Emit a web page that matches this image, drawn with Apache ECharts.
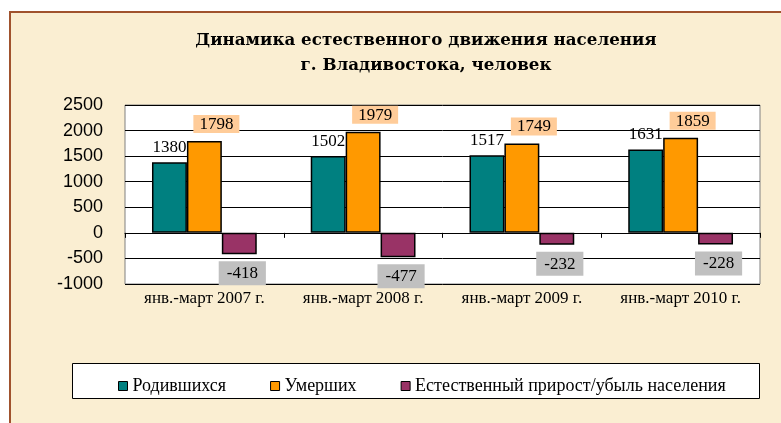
<!DOCTYPE html>
<html>
<head>
<meta charset="utf-8">
<script src="https://cdn.jsdelivr.net/npm/echarts@6/dist/echarts.min.js"></script>
<style>
  html, body { margin: 0; padding: 0; background: #fff; }
  #paper {
    position: absolute; left: 9px; top: 11px; right: 0; bottom: 0;
    background: #faeed2;
    border-left: 2px solid #a0522d;
    border-top: 2px solid #a0522d;
  }
  #chart { position: absolute; left: 0; top: 0; width: 781px; height: 423px; }
</style>
</head>
<body>
<div id="paper"></div>
<div id="chart"></div>
<script>
// периоды и показатели, человек
const periods = ['янв.-март 2007 г.', 'янв.-март 2008 г.', 'янв.-март 2009 г.', 'янв.-март 2010 г.']
const births = [1380, 1502, 1517, 1631]
const deaths = [1798, 1979, 1749, 1859]
const naturalChange = [-418, -477, -232, -228]
const seriesNames = ['Родившихся', 'Умерших', 'Естественный прирост/убыль населения']

const titleFont = '"DejaVu Serif", serif'
const serif = '"Liberation Serif", "Times New Roman", serif'
const sans = '"Liberation Sans", Arial, sans-serif'

const chart = echarts.init(document.getElementById('chart'))

const barBorder = { borderColor: '#000', borderWidth: 1.5 }

chart.setOption({
  backgroundColor: 'transparent',
  animation: false,
  title: {
    text: 'Динамика естественного движения населения\nг. Владивостока, человек',
    left: 426,
    top: 28,
    padding: 0,
    textAlign: 'center',
    textStyle: {
      fontFamily: titleFont, fontWeight: 'bold', fontSize: 16.7, lineHeight: 25, color: '#000',
    },
  },
  graphic: [
    {
      type: 'rect',
      z: 0,
      shape: { x: 72.5, y: 363.5, width: 687, height: 35 },
      style: { fill: '#fff', stroke: '#000', lineWidth: 1 },
    },
  ],
  legend: {
    data: seriesNames,
    left: 113,
    top: 372,
    icon: 'rect',
    itemWidth: 9,
    itemHeight: 9,
    itemGap: 44,
    z: 5,
    itemStyle: { borderColor: '#000', borderWidth: 1 },
    textStyle: { fontFamily: serif, fontSize: 18, color: '#000' },
  },
  grid: {
    left: 125, right: 21, top: 105, bottom: 139,
    show: true,
    backgroundColor: '#fff',
    borderColor: '#808080',
    borderWidth: 1,
  },
  xAxis: [
    {
      // линия по нулю с засечками между периодами
      type: 'category',
      data: periods,
      position: 'bottom',
      axisLine: { onZero: true, lineStyle: { color: '#000', width: 1 } },
      axisTick: { show: true, length: 5, lineStyle: { color: '#000' } },
      axisLabel: { show: false },
    },
    {
      // подписи периодов под областью графика
      type: 'category',
      data: periods,
      position: 'bottom',
      axisLine: { show: false },
      axisTick: { show: false },
      axisLabel: { interval: 0, margin: 6, fontFamily: serif, fontSize: 17, color: '#000' },
    },
  ],
  yAxis: {
    type: 'value',
    min: -1000,
    max: 2500,
    interval: 500,
    axisLine: { show: false },
    axisTick: { show: false },
    axisLabel: {
      margin: 22, fontFamily: sans, fontSize: 18, color: '#000',
      formatter: (v) => String(v),
    },
    splitLine: { lineStyle: { color: '#000', width: 1 } },
  },
  series: [
    {
      name: seriesNames[0],
      type: 'bar',
      data: births,
      barGap: '0%',
      barCategoryGap: '34%',
      itemStyle: { color: '#008080', ...barBorder },
      label: {
        show: true, position: 'top', distance: 6,
        fontFamily: serif, fontSize: 17, color: '#000',
      },
    },
    {
      name: seriesNames[1],
      type: 'bar',
      data: deaths,
      itemStyle: { color: '#ff9900', ...barBorder },
      label: {
        show: true, position: 'top', distance: 8, offset: [12, 0],
        fontFamily: serif, fontSize: 17, color: '#000',
        backgroundColor: '#ffcc99', padding: [1, 6, 0, 6],
      },
    },
    {
      name: seriesNames[2],
      type: 'bar',
      data: naturalChange,
      itemStyle: { color: '#993366', ...barBorder },
      label: {
        show: true, position: 'bottom', distance: 7, offset: [3, 0],
        fontFamily: serif, fontSize: 17, color: '#000',
        backgroundColor: '#c0c0c0', padding: [4, 8, 3, 8],
      },
    },
  ],
})
</script>
</body>
</html>
